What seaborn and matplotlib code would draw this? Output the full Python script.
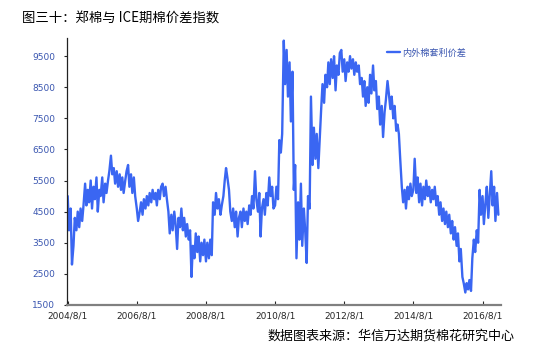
import pandas as pd
import seaborn as sns
import matplotlib.pyplot as plt

# 内外棉套利价差, semi-monthly readings (1st / 15th), 2004-08 .. 2017-01
spread = [
    # 2004/8 - 2005/1
    5000, 3900, 4600, 2800, 3400, 4300, 3900, 4500, 4000, 4600, 4200, 4700,
    # 2005/2 - 2005/7
    5400, 4700, 5200, 4800, 5500, 4600, 5300, 4900, 5600, 4500, 5200, 5000,
    # 2005/8 - 2006/1
    5600, 4800, 5400, 5100, 5500, 5800, 6300, 5700, 5900, 5400, 5800, 5300,
    # 2006/2 - 2006/7
    5700, 5200, 5600, 5100, 5500, 5800, 6000, 5300, 5700, 5100, 5600, 5000,
    # 2006/8 - 2007/1
    4600, 4200, 4500, 4800, 4400, 4900, 4600, 5000, 4700, 5100, 4800, 5200,
    # 2007/2 - 2007/7
    4900, 5100, 4700, 5200, 4900, 5300, 5400, 5000, 5300, 4900, 4500, 3800,
    # 2007/8 - 2008/1
    4400, 3900, 4500, 4100, 3300, 4300, 4000, 4600, 3900, 4300, 3700, 4100,
    # 2008/2 - 2008/7
    3600, 3900, 2400, 3400, 3000, 3800, 3200, 3700, 2900, 3500, 3100, 3600,
    # 2008/8 - 2009/1
    2900, 3500, 3000, 3600, 3100, 4800, 4400, 5100, 4600, 4900, 4400, 4700,
    # 2009/2 - 2009/7
    5000, 5500, 5900, 5600, 5200, 4500, 4200, 4600, 4000, 4500, 3700, 4300,
    # 2009/8 - 2010/1
    4500, 4000, 4600, 4200, 4500, 4100, 4700, 4400, 5000, 4600, 5800, 4900,
    # 2010/2 - 2010/7
    4500, 5100, 3700, 4600, 4900, 4400, 5100, 4700, 5600, 5000, 5300, 4600,
    # 2010/8 - 2011/1
    4700, 5300, 4900, 6800, 6400, 7000, 10000, 8600, 9700, 8200, 9300, 7400,
    # 2011/2 - 2011/7
    9000, 5200, 6000, 3000, 4800, 3600, 5400, 3400, 4600, 3900, 2850, 5000,
    # 2011/8 - 2012/1
    4600, 8200, 6000, 7200, 6200, 7000, 5900, 6800, 7800, 8600, 8000, 8900,
    # 2012/2 - 2012/7
    8500, 9300, 8600, 9400, 8800, 9500, 8400, 9200, 8900, 9600, 9700, 9000,
    # 2012/8 - 2013/1
    9400, 8700, 9300, 9000, 9500, 9100, 9400, 8900, 9300, 9000, 9200, 8600,
    # 2013/2 - 2013/7
    8800, 8200, 8700, 7900, 8500, 8000, 8900, 8300, 9200, 8400, 8700, 7800,
    # 2013/8 - 2014/1
    8200, 7300, 7900, 6900, 7700, 8100, 8700, 8300, 7800, 8200, 7500, 7900,
    # 2014/2 - 2014/7
    7100, 7300, 7000, 6200, 5300, 4800, 5200, 4600, 5300, 4900, 5400, 5000,
    # 2014/8 - 2015/1
    5200, 6200, 5100, 5600, 4800, 5400, 4700, 5300, 4900, 5500, 5000, 5300,
    # 2015/2 - 2015/7
    4800, 5200, 4900, 5300, 4700, 5000, 4400, 4800, 4200, 4600, 4100, 4500,
    # 2015/8 - 2016/1
    4000, 4400, 3800, 4200, 3600, 4000, 3400, 3800, 2900, 3300, 2400, 2200,
    # 2016/2 - 2016/7
    1900, 2200, 2000, 2300, 1950, 3000, 3600, 3200, 3900, 3500, 5200, 4400,
    # 2016/8 - 2017/1
    5000, 4100, 4800, 5300, 4300, 5000, 5800, 4700, 5300, 4200, 5100, 4400,
]
dates = pd.date_range("2004-08-01", periods=len(spread), freq="SMS")

tick_dates = pd.to_datetime(["2004-08-01", "2006-08-01", "2008-08-01", "2010-08-01",
                             "2012-08-01", "2014-08-01", "2016-08-01"])
y_ticks = [1500, 2500, 3500, 4500, 5500, 6500, 7500, 8500, 9500]

df = pd.DataFrame({"date": dates, "spread": spread})

sns.set_style("white")
plt.rcParams["font.family"] = ["Noto Sans CJK SC", "DejaVu Sans"]

line_blue = "#3a66f2"
label_blue = "#3a56b0"

fig = plt.figure(figsize=(5.54, 3.63), dpi=100)
ax = fig.add_axes([0.121, 0.160, 0.783, 0.735])

sns.lineplot(data=df, x="date", y="spread", ax=ax, color=line_blue,
             linewidth=1.7, label="内外棉套利价差")

ax.set_xlim(pd.Timestamp("2004-07-25"), pd.Timestamp("2017-02-10"))
ax.set_ylim(1500, 10080)
ax.set_xticks(tick_dates)
ax.set_xticklabels([f"{d.year}/{d.month}/{d.day}" for d in tick_dates],
                   fontsize=6.5, family="DejaVu Sans")
ax.set_yticks(y_ticks)
ax.set_yticklabels([str(v) for v in y_ticks], fontsize=6.5,
                   family="DejaVu Sans", color=label_blue)
ax.set_xlabel("")
ax.set_ylabel("")

for s in ["top", "right"]:
    ax.spines[s].set_visible(False)
ax.spines["left"].set_color("#222222")
ax.spines["left"].set_linewidth(0.9)
ax.spines["bottom"].set_color("#808080")
ax.spines["bottom"].set_linewidth(1.6)
ax.tick_params(axis="y", direction="out", length=2.5, width=0.8, pad=6, left=True)
ax.tick_params(axis="x", direction="in", length=3, width=0.8, pad=5, bottom=True)

leg = ax.legend(loc="upper left", bbox_to_anchor=(0.73, 0.975), frameon=False,
                fontsize=6.6, handlelength=1.4, handletextpad=0.2, borderaxespad=0)
for t in leg.get_texts():
    t.set_color(label_blue)

fig.text(0.040, 0.950, "图三十：郑棉与 ICE期棉价差指数", fontsize=9.6, color="black",
         ha="left", va="center")
fig.text(0.928, 0.073, "数据图表来源：华信万达期货棉花研究中心", fontsize=9.4, color="black",
         ha="right", va="center")

fig.savefig("out.png", dpi=100)
